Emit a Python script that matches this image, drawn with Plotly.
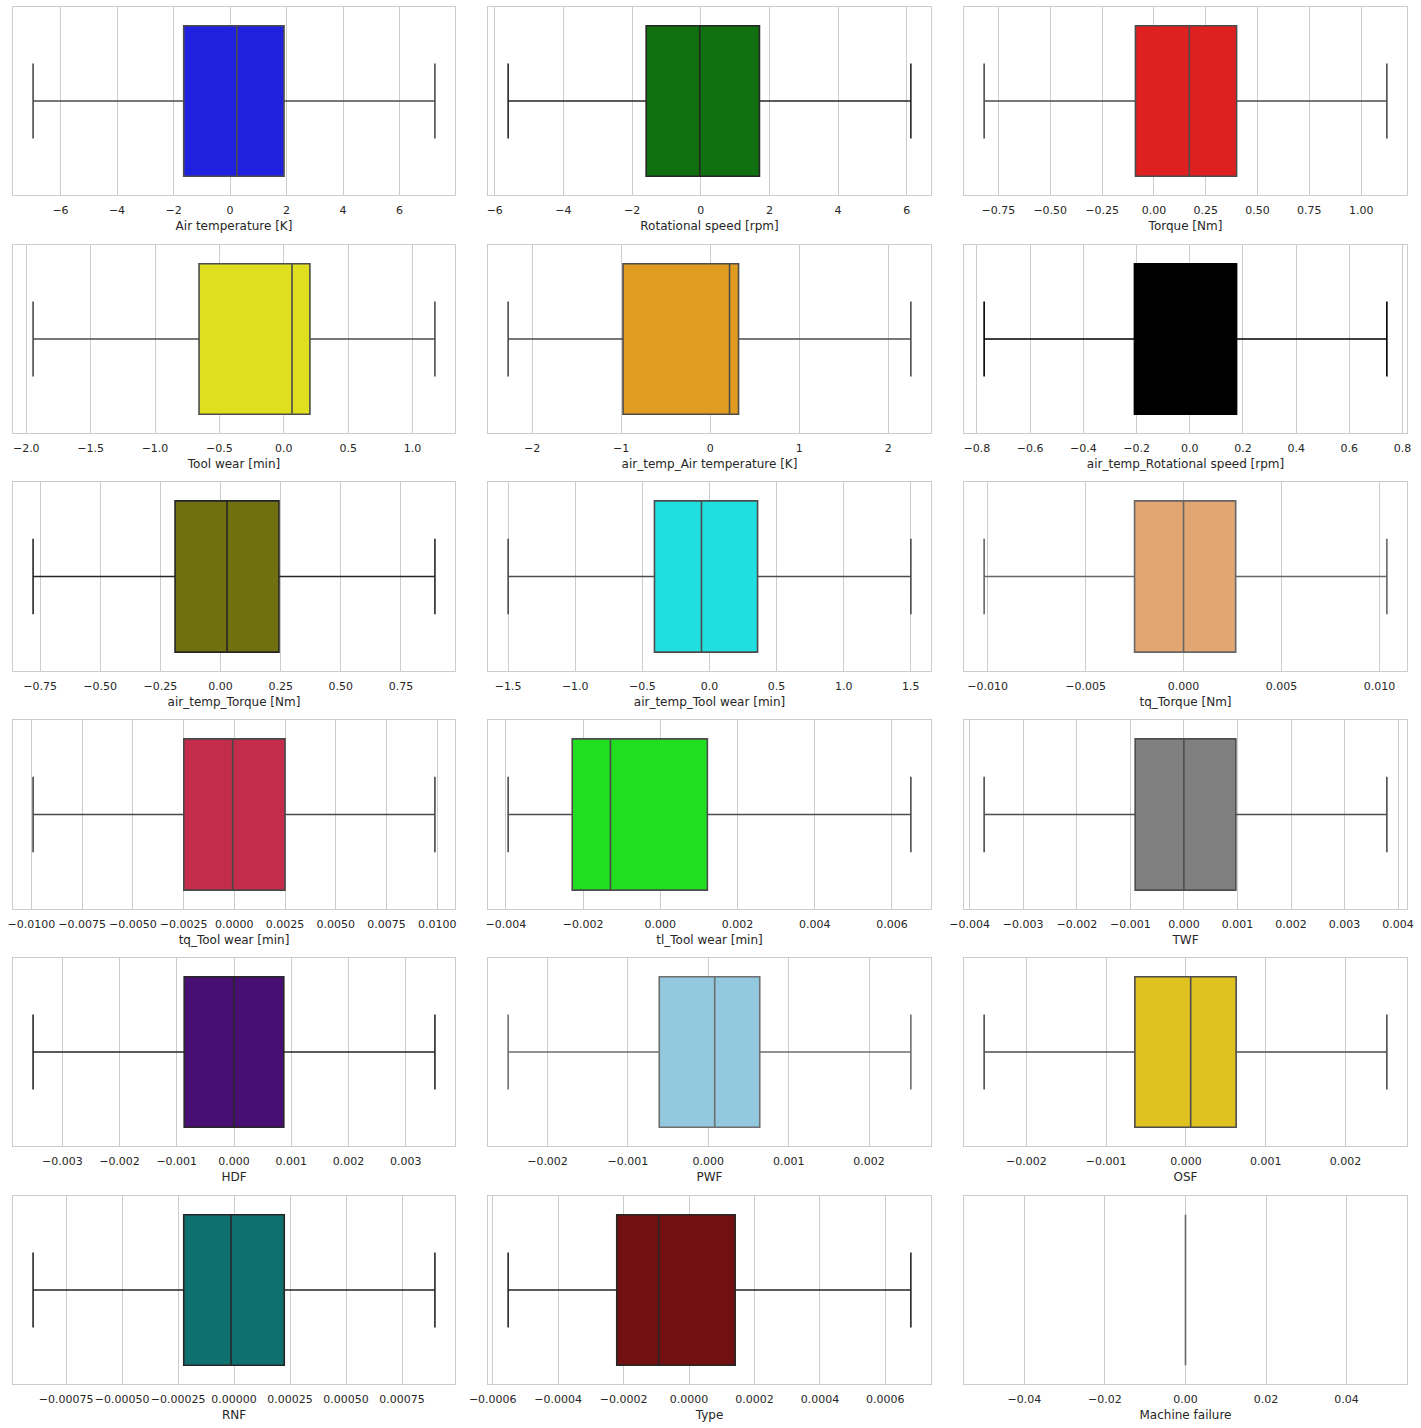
import plotly.graph_objects as go

# ---- data ----
labels = [
    "Air temperature [K]", "Rotational speed [rpm]", "Torque [Nm]",
    "Tool wear [min]", "air_temp_Air temperature [K]", "air_temp_Rotational speed [rpm]",
    "air_temp_Torque [Nm]", "air_temp_Tool wear [min]", "tq_Torque [Nm]",
    "tq_Tool wear [min]", "tl_Tool wear [min]", "TWF",
    "HDF", "PWF", "OSF",
    "RNF", "Type", "Machine failure",
]
lower_whisker = [-6.97, -5.61, -0.819, -1.947, -2.269, -0.773, -0.779, -1.50, -0.01018,
                 -0.00992, -0.00394, -0.00373, -0.00351, -0.00249, -0.00253,
                 -0.000898, -0.000553, 0.0]
q1_vals = [-1.64, -1.59, -0.089, -0.658, -0.979, -0.208, -0.189, -0.41, -0.0025,
           -0.00249, -0.00228, -0.00091, -0.00087, -0.00061, -0.00064,
           -0.000225, -0.000221, 0.0]
median_vals = [0.24, -0.03, 0.171, 0.064, 0.217, -0.030, 0.027, -0.06, 0.0,
               -0.00008, -0.00129, 0.0, 0.0, 0.00008, 0.00006,
               -0.000014, -0.000093, 0.0]
q3_vals = [1.91, 1.71, 0.399, 0.203, 0.318, 0.176, 0.243, 0.358, 0.00266,
           0.0025, 0.00122, 0.00097, 0.00087, 0.00064, 0.00063,
           0.000224, 0.000141, 0.0]
upper_whisker = [7.25, 6.12, 1.124, 1.174, 2.253, 0.741, 0.891, 1.50, 0.01038,
                 0.00989, 0.00649, 0.00379, 0.00351, 0.00252, 0.00252,
                 0.000897, 0.000678, 0.0]

fill_colors = ["#2020DF", "#107010", "#DF2020", "#DFDF20", "#DF9C20", "#000000",
               "#707010", "#20DFDF", "#E2A672", "#C32D4B", "#20DF20", "#808080",
               "#480F72", "#93C9DE", "#DFC120", "#107070", "#701010", "#808080"]
line_colors = ["#4c4c4c", "#262626", "#4c4c4c", "#4c4c4c", "#4c4c4c", "#000000",
               "#262626", "#4c4c4c", "#666666", "#484848", "#4c4c4c", "#4d4d4d",
               "#272727", "#6f6f6f", "#4c4c4c", "#262626", "#262626", "#666666"]

tick_steps = [2, 2, 0.25, 0.5, 1, 0.2, 0.25, 0.5, 0.005,
              0.0025, 0.002, 0.001, 0.001, 0.001, 0.001,
              0.00025, 0.0002, 0.02]
tick_formats = [".0f", ".0f", ".2f", ".1f", ".0f", ".1f", ".2f", ".1f", ".3f",
                ".4f", ".3f", ".3f", ".3f", ".3f", ".3f",
                ".5f", ".4f", ".2f"]

# ---- layout geometry ----
W, H = 1421, 1428
col_px = [(13, 455), (488, 931), (964, 1407)]
row_px = [(7, 195), (245, 433), (482, 671), (720, 909), (958, 1146), (1196, 1384)]

TXT = "#262626"
GRID = "#cccccc"
FONT = "DejaVu Sans, Liberation Sans, sans-serif"

fig = go.Figure()
layout = dict(
    width=W, height=H,
    margin=dict(l=0, r=0, t=0, b=0, autoexpand=False),
    paper_bgcolor="white", plot_bgcolor="white",
    showlegend=False,
    font=dict(family=FONT, color=TXT, size=11),
)

for i, name in enumerate(labels):
    r, c = divmod(i, 3)
    suffix = "" if i == 0 else str(i + 1)
    fig.add_trace(go.Box(
        y=[0], orientation="h",
        q1=[q1_vals[i]], median=[median_vals[i]], q3=[q3_vals[i]],
        lowerfence=[lower_whisker[i]], upperfence=[upper_whisker[i]],
        boxpoints=False, width=0.8, whiskerwidth=0.5,
        fillcolor=fill_colors[i],
        line=dict(color=line_colors[i], width=1.6),
        xaxis="x" + suffix, yaxis="y" + suffix,
        name=name, hoverinfo="skip",
    ))
    lo, hi = lower_whisker[i], upper_whisker[i]
    if hi == lo:
        lo, hi = lo - 0.05, hi + 0.05
    pad = 0.05 * (hi - lo)
    x0, x1 = col_px[c]
    y0, y1 = row_px[r]
    layout["xaxis" + suffix] = dict(
        domain=[x0 / W, x1 / W],
        anchor="y" + suffix,
        range=[lo - pad, hi + pad],
        tick0=0, dtick=tick_steps[i], tickformat=tick_formats[i],
        tickangle=0, automargin=False,
        showgrid=True, gridcolor=GRID, gridwidth=1,
        zeroline=False,
        showline=True, linecolor=GRID, linewidth=1.25, mirror=True,
        ticks="outside", ticklen=5, tickcolor="rgba(0,0,0,0)",
        tickfont=dict(size=11, color=TXT, family=FONT),
        title=dict(text=name, font=dict(size=12, color=TXT, family=FONT), standoff=5),
    )
    layout["yaxis" + suffix] = dict(
        domain=[1 - y1 / H, 1 - y0 / H],
        anchor="x" + suffix,
        range=[0.5, -0.5],
        automargin=False,
        showgrid=False, zeroline=False, showticklabels=False, ticks="",
        showline=True, linecolor=GRID, linewidth=1.25, mirror=True,
    )

fig.update_layout(**layout)
fig.write_html("out.html")
